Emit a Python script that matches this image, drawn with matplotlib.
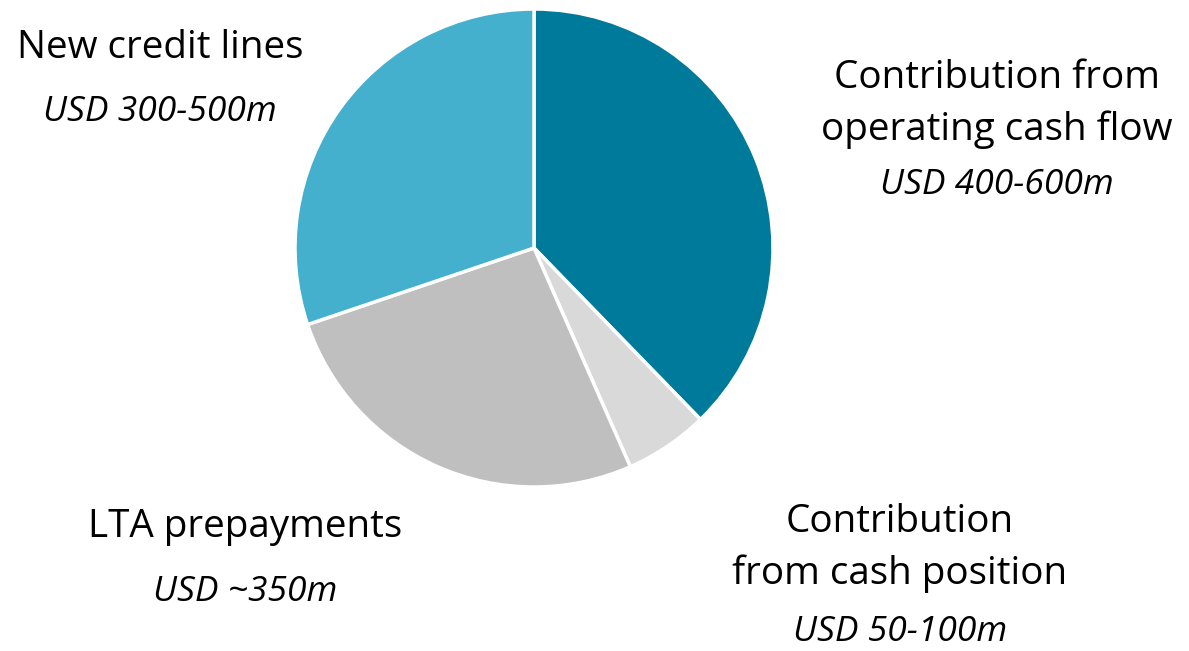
import matplotlib
matplotlib.use("Agg")
import matplotlib.pyplot as plt

# funding sources, midpoint of each range in USD m
sources = ["Contribution from\noperating cash flow", "Contribution\nfrom cash position",
           "LTA prepayments", "New credit lines"]
amounts = [500, 75, 350, 400]
ranges = ["USD 400-600m", "USD 50-100m", "USD ~350m", "USD 300-500m"]
colors = ["#007A9B", "#D9D9D9", "#BFBFBF", "#45B0CE"]

plt.rcParams['font.family'] = ['Open Sans', 'DejaVu Sans']

W, H = 1189, 651
fig = plt.figure(figsize=(W / 100, H / 100), dpi=100)

# pie sits in a square box, centre (534, 248) px, radius 239 px
cx, cy, r = 534, 248, 239
ax = fig.add_axes([(cx - r) / W, (H - cy - r) / H, 2 * r / W, 2 * r / H])
ax.pie(amounts, colors=colors, startangle=90, counterclock=False, radius=1,
       wedgeprops=dict(edgecolor="white", linewidth=2.5))
ax.set_xlim(-1, 1)
ax.set_ylim(-1, 1)
ax.set_aspect("equal")
ax.axis("off")

# label positions in pixels (name centre, range centre)
name_pos = [(997, 104), (900, 548), (245, 527), (160, 48)]
range_pos = [(997, 185), (900, 632), (245, 592), (160, 112)]

for name, rng, (nx, ny), (rx, ry) in zip(sources, ranges, name_pos, range_pos):
    fig.text(nx / W, 1 - ny / H, name, ha="center", va="center",
             fontsize=27.8, color="#000000", linespacing=1.42)
    fig.text(rx / W, 1 - ry / H, rng, ha="center", va="center",
             fontsize=25.5, style="italic", color="#000000")

fig.savefig("out.png", dpi=100, facecolor="white")
